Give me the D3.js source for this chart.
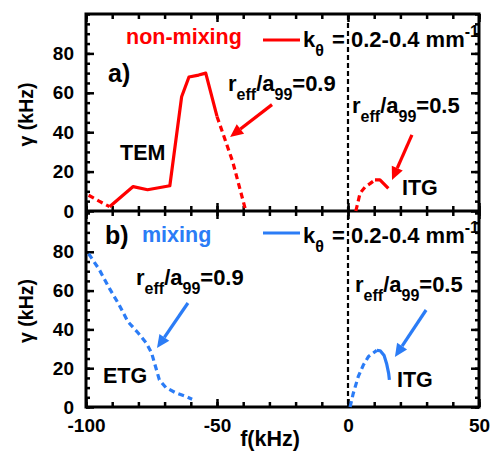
<!DOCTYPE html>
<html><head><meta charset="utf-8">
<script src="https://cdn.jsdelivr.net/npm/d3@7"></script>
<style>
body{margin:0;background:#fff}
svg{display:block;font-family:"Liberation Sans",Arial,Helvetica,sans-serif;font-weight:bold}
</style>
</head><body>
<svg id="chart" width="495" height="451"></svg>
<script>
// Axis settings
const fDomain = [-100, 50];
const gammaDomain = [0, 100];
const fTicks = [-100, -50, 0, 50];
const gammaTicks = [0, 20, 40, 60, 80];
const fMinorTicks = d3.range(-100, 51, 10);
const gammaMinorTicks = d3.range(0, 101, 5);

// Panel a) non-mixing, growth rate gamma (kHz) vs frequency f (kHz)
const temDashedLow = [[-99, 8], [-95, 5], [-91, 2.2]];
const temSolid = [[-91, 2.2], [-82, 12.4], [-76.5, 10.8], [-68, 12.8], [-63.5, 58], [-60.7, 68], [-57, 69], [-54.3, 70], [-50, 48]];
const temDashedHigh = [[-50, 48], [-44, 25], [-39, 0]];
const itgRedDashed = [[3, 0], [4.6, 9], [6.5, 12.2], [8.4, 13.9], [10.3, 15.8]];
const itgRedSolid = [[10.3, 15.8], [12.2, 15.8], [15.4, 11.5]];

// Panel b) mixing
const etgBlueDashed = [[-99, 79], [-95, 71], [-91, 61], [-87.5, 53], [-84, 44], [-80, 38], [-77, 33], [-75, 28], [-73.5, 21], [-72, 14], [-69.5, 10], [-66, 7.5], [-62, 5.5], [-59.5, 4]];
const itgBlueDashed = [[0.8, 0], [2, 7], [3.9, 15.6], [5.8, 21.5], [7.8, 26], [11, 29.2]];
const itgBlueSolid = [[11, 29.2], [12.3, 29], [13.8, 26.5], [14.8, 22], [15.5, 17.5], [15.8, 14]];

// Arrows pointing at the curves: [fromF, fromGamma, toF, toGamma]
const arrowsA = [[-29, 54, -45, 37.6], [24.4, 38.6, 16.8, 15.7]];
const arrowsB = [[-61.1, 53.6, -72.9, 30.4], [29.8, 50, 17.9, 25.8]];

const RED = "#ff0000";
const BLUE = "#2b7cf6";

const svg = d3.select("#chart");
const x = d3.scaleLinear(fDomain, [86, 479]);
const yA = d3.scaleLinear(gammaDomain, [211, 14]);
const yB = d3.scaleLinear(gammaDomain, [407, 213]);

function styleAxis(g, width) {
  g.select(".domain").remove();
  g.selectAll(".tick line").attr("stroke", "#000").attr("stroke-width", width);
  g.selectAll(".tick text").attr("fill", "#000").attr("font-size", 19)
    .attr("font-family", '"Liberation Sans",Arial,sans-serif').attr("font-weight", "bold");
}

function drawPanel(y, topY, bottomY, showX) {
  const g = svg.append("g");
  // left axis
  g.append("g").attr("transform", `translate(${x(-100)},0)`)
    .call(d3.axisLeft(y).tickValues(gammaMinorTicks).tickSize(-4).tickFormat(""))
    .call(a => styleAxis(a, 2.5));
  g.append("g").attr("transform", `translate(${x(-100)},0)`)
    .call(d3.axisLeft(y).tickValues(gammaTicks).tickSize(-8).tickPadding(12).tickFormat(d => String(d)))
    .call(a => styleAxis(a, 2.5));
  // right axis
  g.append("g").attr("transform", `translate(${x(50)},0)`)
    .call(d3.axisRight(y).tickValues(gammaMinorTicks).tickSize(-4).tickFormat(""))
    .call(a => styleAxis(a, 2.5));
  g.append("g").attr("transform", `translate(${x(50)},0)`)
    .call(d3.axisRight(y).tickValues(gammaTicks).tickSize(-8).tickFormat(""))
    .call(a => styleAxis(a, 2.5));
  // top axis
  g.append("g").attr("transform", `translate(0,${topY})`)
    .call(d3.axisTop(x).tickValues(fMinorTicks).tickSize(-5).tickFormat(""))
    .call(a => styleAxis(a, 2.5));
  g.append("g").attr("transform", `translate(0,${topY})`)
    .call(d3.axisTop(x).tickValues(fTicks).tickSize(-8).tickFormat(""))
    .call(a => styleAxis(a, 2.5));
  // bottom axis
  g.append("g").attr("transform", `translate(0,${bottomY})`)
    .call(d3.axisBottom(x).tickValues(fMinorTicks).tickSize(-5).tickFormat(""))
    .call(a => styleAxis(a, 2.5));
  g.append("g").attr("transform", `translate(0,${bottomY})`)
    .call(d3.axisBottom(x).tickValues(fTicks).tickSize(-8).tickPadding(11.5)
      .tickFormat(showX ? (d => String(d)) : ""))
    .call(a => styleAxis(a, 2.5));
  // y label
  g.append("text")
    .attr("transform", `translate(33,${(topY + bottomY) / 2 + 2}) rotate(-90)`)
    .attr("text-anchor", "middle").attr("font-size", 19.5).text("γ (kHz)");
}

drawPanel(yA, 14, 211, false);
drawPanel(yB, 211, 407, true);

// frame
svg.append("rect").attr("x", x(-100)).attr("y", 14)
  .attr("width", x(50) - x(-100)).attr("height", 407 - 14)
  .attr("fill", "none").attr("stroke", "#000").attr("stroke-width", 3);
svg.append("line").attr("x1", x(-100)).attr("x2", x(50)).attr("y1", 211).attr("y2", 211)
  .attr("stroke", "#000").attr("stroke-width", 3);

// f = 0 divider
svg.append("line").attr("x1", x(0)).attr("x2", x(0)).attr("y1", 15).attr("y2", 406)
  .attr("stroke", "#000").attr("stroke-width", 2.2).attr("stroke-dasharray", "5,3");

// curves
function curve(data, y, color, dashed) {
  const line = d3.line().x(d => x(d[0])).y(d => y(d[1])).curve(d3.curveLinear);
  svg.append("path").datum(data).attr("d", line)
    .attr("fill", "none").attr("stroke", color).attr("stroke-width", 3.2)
    .attr("stroke-linejoin", "round")
    .attr("stroke-dasharray", dashed ? "6,4" : null);
}
curve(temDashedLow, yA, RED, true);
curve(temSolid, yA, RED, false);
curve(temDashedHigh, yA, RED, true);
curve(itgRedDashed, yA, RED, true);
curve(itgRedSolid, yA, RED, false);

curve(etgBlueDashed, yB, BLUE, true);
curve(itgBlueDashed, yB, BLUE, true);
curve(itgBlueSolid, yB, BLUE, false);

// arrows
function arrow(a, y, color) {
  const x1 = x(a[0]), y1 = y(a[1]), x2 = x(a[2]), y2 = y(a[3]);
  const ang = Math.atan2(y2 - y1, x2 - x1);
  const len = 13, half = 6;
  const bx = x2 - len * Math.cos(ang), by = y2 - len * Math.sin(ang);
  svg.append("line").attr("x1", x1).attr("y1", y1).attr("x2", bx).attr("y2", by)
    .attr("stroke", color).attr("stroke-width", 3.2);
  const px = -Math.sin(ang) * half, py = Math.cos(ang) * half;
  svg.append("polygon")
    .attr("points", [[x2, y2], [bx + px, by + py], [bx - px, by - py]].map(p => p.join(",")).join(" "))
    .attr("fill", color);
}
arrowsA.forEach(a => arrow(a, yA, RED));
arrowsB.forEach(a => arrow(a, yB, BLUE));

// text with sub/superscripts; a part may carry its own x position
function rich(xp, yp, parts, color) {
  const t = svg.append("text").attr("x", xp).attr("y", yp).attr("font-size", 22).attr("fill", color || "#000");
  let shift = 0;
  parts.forEach(([s, kind, px]) => {
    const target = kind === "sub" ? 9 : kind === "sup" ? -10 : 0;
    const ts = t.append("tspan").attr("dy", target - shift)
      .attr("font-size", kind ? 16 : 22).text(s);
    if (px !== undefined) ts.attr("x", xp + px);
    shift = target;
  });
  return t;
}
const ratio = v => [["r"], ["eff", "sub"], ["/a"], ["99", "sub"], ["=" + v]];
const kLabel = [["k"], ["θ", "sub"], ["=", null, 29], ["0.2-0.4 mm", null, 48], ["-1", "sup"]];

// panel a labels
svg.append("text").attr("x", 126).attr("y", 44).attr("font-size", 21.5).attr("fill", RED).text("non-mixing");
svg.append("text").attr("x", 108).attr("y", 82).attr("font-size", 25).text("a)");
svg.append("text").attr("x", 120).attr("y", 160).attr("font-size", 21.5).text("TEM");
svg.append("text").attr("x", 402).attr("y", 195).attr("font-size", 21.5).text("ITG");
svg.append("line").attr("x1", 263).attr("x2", 300).attr("y1", 40).attr("y2", 40).attr("stroke", RED).attr("stroke-width", 3.2);
rich(303, 47, kLabel);
rich(228, 91, ratio("0.9"));
rich(352, 113, ratio("0.5"));

// panel b labels
svg.append("text").attr("x", 142).attr("y", 242).attr("font-size", 21.5).attr("fill", BLUE).text("mixing");
svg.append("text").attr("x", 105).attr("y", 244).attr("font-size", 25).text("b)");
svg.append("text").attr("x", 103).attr("y", 383).attr("font-size", 21.5).text("ETG");
svg.append("text").attr("x", 397).attr("y", 387).attr("font-size", 21.5).text("ITG");
svg.append("line").attr("x1", 263).attr("x2", 300).attr("y1", 233).attr("y2", 233).attr("stroke", BLUE).attr("stroke-width", 3.2);
rich(303, 243, kLabel);
rich(136, 285, ratio("0.9"));
rich(355, 292, ratio("0.5"));

// x label
svg.append("text").attr("x", 270).attr("y", 446).attr("text-anchor", "middle").attr("font-size", 21.5).text("f(kHz)");
</script>
</body></html>
